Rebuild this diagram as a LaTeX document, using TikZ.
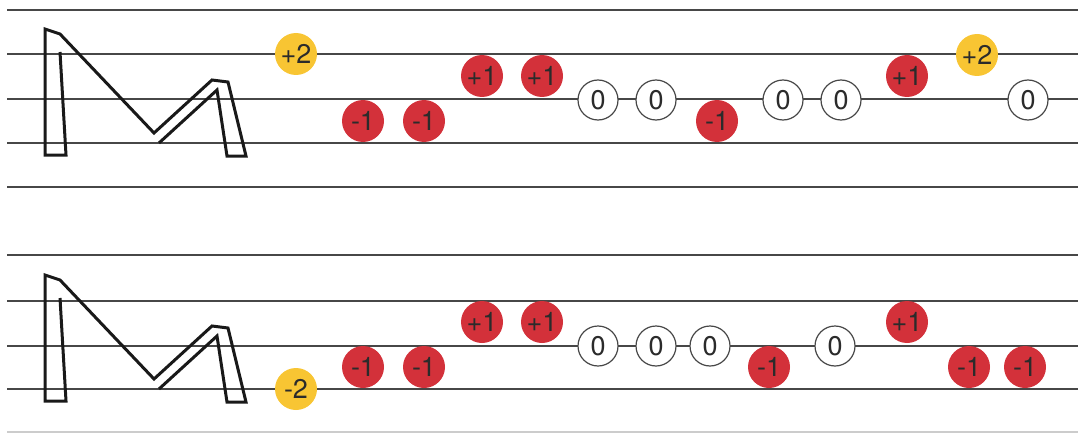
\documentclass[tikz,border=0pt]{standalone}
\usepackage{fontspec}
\setmainfont{TeX Gyre Heros}
\usetikzlibrary{positioning}
\definecolor{noteRed}{HTML}{D3313A}
\definecolor{noteGold}{HTML}{F8C533}
\definecolor{noteInk}{HTML}{2B2B2B}
\definecolor{staffGray}{HTML}{474747}
\tikzset{
  nt/.style={circle, minimum size=42pt, inner sep=0pt, font=\fontsize{27}{32}\selectfont, text=noteInk},
  dn/.style={nt, fill=noteRed},
  upn/.style={nt, fill=noteRed},
  leap/.style={nt, fill=noteGold},
  same/.style={nt, draw=staffGray, line width=1.2pt, fill=white, minimum size=40pt},
  staff/.style={staffGray, line width=2.6pt},
  glyph/.style={black!90, line width=3pt, line join=miter},
}

\begin{document}
\begin{tikzpicture}[x=1pt, y=-1pt]
  \useasboundingbox (0,0) rectangle (1078,433);
  % staff lines
  \foreach \ly in {10,54,99,143,187,255,301,346,389}
    \draw[staff] (7,\ly) -- (1078,\ly);
  \draw[gray!40, line width=1.8pt] (7,432) -- (1078,432);
  % the M glyph, once per staff
  \foreach \dy in {0,246} {
    \draw[glyph, shift={(0,\dy)}] (60,52) -- (66,155) -- (45,155) -- (45,29) -- (60,34)
      -- (154,133) -- (212,80) -- (228,82) -- (246,156) -- (227,156) -- (217,90) -- (159,143);
  }
  % upper staff
  \foreach \n/\x/\y/\s/\t in {1/296/54/leap/+2, 2/363/121/dn/-1, 3/424/121/dn/-1,
      4/482/76/upn/+1, 5/542/76/upn/+1, 6/598/100/same/0, 7/656/100/same/0,
      8/717/121/dn/-1, 9/783/100/same/0, 10/841/100/same/0, 11/907/76/upn/+1,
      12/977/55/leap/+2, 13/1028/100/same/0}
    \node[\s] (up\n) at (\x,\y) {\t};
  % lower staff
  \foreach \n/\x/\y/\s/\t in {1/296/389/leap/-2, 2/363/367/dn/-1, 3/424/367/dn/-1,
      4/482/322/upn/+1, 5/542/322/upn/+1, 6/598/346/same/0, 7/656/346/same/0,
      8/710/346/same/0, 9/769/367/dn/-1, 10/835/346/same/0, 11/907/322/upn/+1,
      12/969/367/dn/-1, 13/1025/367/dn/-1}
    \node[\s] (lo\n) at (\x,\y) {\t};
\end{tikzpicture}
\end{document}
